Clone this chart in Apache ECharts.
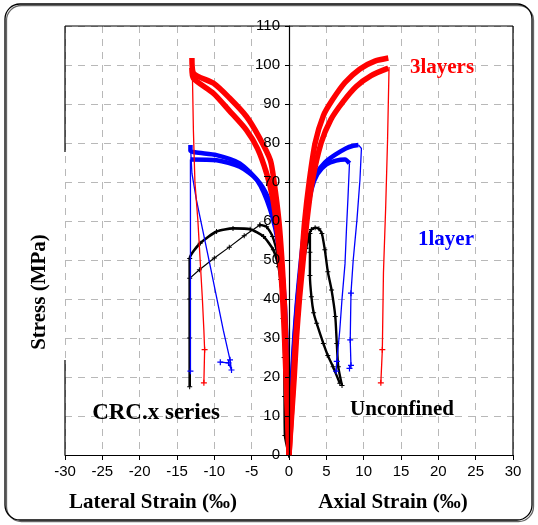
<!DOCTYPE html>
<html>
<head>
<meta charset="utf-8">
<script src="https://cdn.jsdelivr.net/npm/echarts@6/dist/echarts.min.js"></script>
<style>
  html, body { margin: 0; padding: 0; background: #fff; }
  #chart { width: 538px; height: 525px; }
</style>
</head>
<body>
<div id="chart"></div>
<script>
// stress (MPa) against strain (‰); lateral strain is drawn on the negative side
const xRange = [-30, 30];
const yRange = [0, 110];

// 3 layers (red)
const red3AxialA = [[0,0],[0.3,10],[0.6,20],[0.9,30],[1.3,40],[1.7,50],[2.1,60],[2.7,70],[3.5,80],[4.6,87],[5.8,91],[7.5,95.5],[9.5,99],[11.5,101],[13.3,101.8]];
const red3AxialB = [[0,0],[0.35,10],[0.7,20],[1.0,30],[1.4,40],[1.9,50],[2.4,60],[3.1,70],[4.3,80],[5.6,86],[7.2,90.5],[9.0,94.5],[11.0,97.3],[13.3,99.2]];
const red3AxialPost = [[13.4,99.5],[13.2,80.8],[12.95,63.6],[12.65,46.7],[12.5,27],[12.3,18.5]];
const red3LatA = [[0,0],[-0.15,10],[-0.3,20],[-0.45,30],[-0.65,40],[-0.95,50],[-1.35,60],[-2.0,70],[-2.5,75.6],[-4.0,81.5],[-5.7,86.8],[-8.0,91.6],[-10.1,95.3],[-12.8,97.9],[-13.0,101.8]];
const red3LatB = [[0,0],[-0.2,10],[-0.4,20],[-0.6,30],[-0.85,40],[-1.2,50],[-1.6,58],[-2.2,66],[-3.0,72.2],[-4.2,78.5],[-5.7,83.3],[-8.0,88.3],[-10.1,92.7],[-12.8,96.6],[-13.0,99.2]];
const red3LatPost = [[-12.95,99],[-12.8,83],[-12.6,70],[-12.2,60],[-11.9,50],[-11.6,40],[-11.4,32],[-11.3,27],[-11.4,18.5]];

// 1 layer (blue)
const blue1AxialA = [[0,0],[0.2,10],[0.4,20],[0.7,30],[1.1,40],[1.6,50],[2.2,60],[2.9,68],[3.6,72],[4.8,75],[6.2,77],[7.6,78.6],[8.6,79.3],[9.3,79.5]];
const blue1AxialAPost = [[9.3,79.5],[9.7,78.6],[9.5,70.5],[9.1,60.3],[8.6,50],[8.3,41.5],[8.2,29.5],[8.3,23],[8.1,22.2]];
const blue1AxialB = [[0,0],[0.2,10],[0.45,20],[0.75,30],[1.15,40],[1.7,50],[2.3,60],[3.0,68],[3.8,72],[5.0,74.5],[6.3,75.5],[7.5,75.8],[8.1,74.8]];
const blue1AxialBPost = [[8.1,74.8],[7.9,66],[7.7,58],[7.5,49],[7.1,40],[6.8,32],[6.5,26],[6.4,24],[6.3,21.5]];
const blue1LatA = [[0,0],[-0.1,10],[-0.2,20],[-0.35,30],[-0.6,40],[-1.0,49],[-1.6,57.7],[-2.5,64.5],[-3.9,69.7],[-6.6,74.8],[-9.7,76.9],[-13.2,78],[-13.2,79.5]];
const blue1LatAPost = [[-13.2,79.5],[-13.0,72.2],[-12.4,65.4],[-10.5,48],[-8.8,32],[-7.9,24.4],[-7.7,21.8],[-8.1,23.6],[-9.2,23.8]];
const blue1LatB = [[0,0],[-0.15,10],[-0.3,20],[-0.5,30],[-0.8,40],[-1.4,53.4],[-2.5,62.8],[-4.3,70.5],[-6.6,73.9],[-9.7,75.6],[-13.2,75.8]];
const blue1LatBPost = [[-13.2,75.8],[-13.2,60],[-13.2,40],[-13.2,21.5]];

// unconfined (black)
const blackAxialA = [[0,0],[0.25,10],[0.5,20],[0.8,30],[1.2,40],[1.7,48],[2.2,53],[2.6,56],[3.0,57.8],[3.5,58.3],[4.0,58],[4.4,56.8],[4.8,52.6],[5.2,47],[5.7,42.3],[6.2,35.5],[6.4,28.6],[6.6,22.6],[7.1,17.8]];
const blackAxialB = [[0,0],[0.3,10],[0.55,20],[0.9,30],[1.3,40],[1.8,48],[2.3,53],[2.6,55.5],[2.8,56.8],[2.8,52],[2.8,46],[3.0,40.6],[3.3,36.5],[3.7,33.8],[4.6,28.6],[5.2,25.5],[5.9,22.6],[6.8,18.4]];
const blackLatA = [[0,0],[-0.55,5],[-0.6,15],[-0.65,25],[-0.8,35],[-1.1,45],[-1.5,51],[-2.2,56],[-3.0,58.5],[-3.9,59]];
const blackLatAPost = [[-3.9,59],[-6.0,56.2],[-8.0,53.3],[-10.0,50.5],[-12.0,47.5],[-13.3,45.3]];
const blackLatB = [[0,0],[-0.25,10],[-0.4,20],[-0.6,30],[-0.9,40],[-1.4,48.3],[-2.1,52.6],[-3.4,56],[-5.2,57.9],[-7.5,58.1],[-9.7,57.3],[-11.9,54.3],[-13.3,50.4],[-13.3,40],[-13.3,30],[-13.3,17.5]];

const grid = { left: 65, top: 26, right: 25, bottom: 70 };
const W = 538, H = 525;
const gx0 = grid.left, gx1 = W - grid.right, gy0 = grid.top, gy1 = H - grid.bottom;
// the stress axis sits on zero strain, i.e. halfway across the plot
const yAxisShift = -(gx1 - gx0) * (0 - xRange[0]) / (xRange[1] - xRange[0]);

const plus = 'path://M-1,-5H1V-1H5V1H1V5H-1V1H-5V-1H-1Z';
const serif = "'Liberation Serif', 'Times New Roman', serif";
const sans = "'Liberation Sans', Arial, sans-serif";

function gridLine() {
  return { show: true, lineStyle: { color: '#b8b8b8', type: [7, 6], width: 1 } };
}
function thick(data, color, width, z) {
  return { type: 'line', data, smooth: 0.25, showSymbol: false, z,
    lineStyle: { color, width }, itemStyle: { color } };
}
function thin(data, color, markBelow, z) {
  return { type: 'line', data, smooth: false, symbol: plus, z,
    symbolSize: (v) => (v[1] < markBelow ? 6 : 0),
    lineStyle: { color, width: 1.3 }, itemStyle: { color } };
}
function beaded(data, width) {
  return { type: 'line', data, smooth: 0.2, symbol: plus, symbolSize: 5, z: 2,
    lineStyle: { color: '#000', width }, itemStyle: { color: '#000' } };
}

const chart = echarts.init(document.getElementById('chart'), null, { renderer: 'canvas' });

const option = {
  animation: false,
  backgroundColor: '#fff',
  grid: { left: grid.left, top: grid.top, right: grid.right, bottom: grid.bottom, containLabel: false },
  xAxis: {
    type: 'value', min: xRange[0], max: xRange[1], interval: 5,
    axisLine: { lineStyle: { color: '#000', width: 1.2 } },
    axisTick: { show: true, length: 5, lineStyle: { color: '#000' } },
    axisLabel: { color: '#000', fontSize: 15, fontFamily: sans, margin: 9 },
    splitLine: gridLine()
  },
  yAxis: [
    { // horizontal grid lines only, behind the curves
      type: 'value', min: yRange[0], max: yRange[1], interval: 10,
      axisLine: { show: false }, axisTick: { show: false }, axisLabel: { show: false },
      splitLine: gridLine()
    },
    { // the stress axis itself, on zero strain and above the curves
      type: 'value', min: yRange[0], max: yRange[1], interval: 10, zlevel: 1,
      position: 'left', offset: yAxisShift,
      axisLine: { show: true, onZero: false, lineStyle: { color: '#000', width: 1.2 } },
      axisTick: { show: true, length: 4, lineStyle: { color: '#000' } },
      axisLabel: { color: '#000', fontSize: 15, fontFamily: sans, margin: 9 },
      splitLine: { show: false }
    }
  ],
  series: [
    beaded(blackAxialA, 2.4),
    beaded(blackAxialB, 2.4),
    beaded(blackLatA, 2.4),
    { type: 'line', data: blackLatAPost, symbol: plus, symbolSize: 5, z: 2,
      lineStyle: { color: '#000', width: 1.2 }, itemStyle: { color: '#000' } },
    beaded(blackLatB, 2.6),

    thick(blue1AxialA, '#0000ff', 4.5, 3),
    thick(blue1AxialB, '#0000ff', 4.5, 3),
    thick(blue1LatA, '#0000ff', 4.5, 3),
    thick(blue1LatB, '#0000ff', 4.5, 3),
    thin(blue1AxialAPost, '#0000ff', 45, 3),
    thin(blue1AxialBPost, '#0000ff', 26, 3),
    thin(blue1LatAPost, '#0000ff', 26, 3),
    thin(blue1LatBPost, '#0000ff', 23, 3),

    thick(red3AxialA, '#ff0000', 5.5, 4),
    thick(red3AxialB, '#ff0000', 5.5, 4),
    thick(red3LatA, '#ff0000', 5.5, 4),
    thick(red3LatB, '#ff0000', 5.5, 4),
    thin(red3AxialPost, '#ff0000', 30, 4),
    thin(red3LatPost, '#ff0000', 30, 4)
  ],
  graphic: [
    { type: 'rect', shape: { x: 5, y: 4, width: 527, height: 516, r: 15 },
      style: { fill: 'none', stroke: '#000', lineWidth: 1.3,
        shadowColor: 'rgba(0,0,0,0.6)', shadowOffsetX: 1.5, shadowOffsetY: 1.5 }, z: 0 },
    { type: 'line', shape: { x1: gx0, y1: gy0, x2: gx1, y2: gy0 }, style: { stroke: '#000', lineWidth: 1.2 }, z: 10 },
    { type: 'line', shape: { x1: gx1, y1: gy0, x2: gx1, y2: gy1 }, style: { stroke: '#000', lineWidth: 1.2 }, z: 10 },
    { type: 'line', shape: { x1: gx0, y1: gy0, x2: gx0, y2: 152 }, style: { stroke: '#000', lineWidth: 1.2 }, z: 10 },
    { type: 'line', shape: { x1: gx0, y1: 360, x2: gx0, y2: gy1 }, style: { stroke: '#000', lineWidth: 1.2 }, z: 10 },
    { type: 'text', x: 40, y: 292, rotation: Math.PI / 2, z: 10,
      style: { text: 'Stress (MPa)', fill: '#000', font: 'bold 21px ' + serif, align: 'center', verticalAlign: 'middle' } },
    { type: 'text', x: 153, y: 503, z: 10,
      style: { text: 'Lateral Strain (‰)', fill: '#000', font: 'bold 21px ' + serif, align: 'center', verticalAlign: 'middle' } },
    { type: 'text', x: 393, y: 503, z: 10,
      style: { text: 'Axial Strain (‰)', fill: '#000', font: 'bold 21px ' + serif, align: 'center', verticalAlign: 'middle' } },
    { type: 'text', x: 156, y: 413, z: 10,
      style: { text: 'CRC.x series', fill: '#000', font: 'bold 23px ' + serif, align: 'center', verticalAlign: 'middle' } },
    { type: 'text', x: 402, y: 410, z: 10,
      style: { text: 'Unconfined', fill: '#000', font: 'bold 21px ' + serif, align: 'center', verticalAlign: 'middle' } },
    { type: 'text', x: 442, y: 68, z: 10,
      style: { text: '3layers', fill: '#ff0000', font: 'bold 21px ' + serif, align: 'center', verticalAlign: 'middle' } },
    { type: 'text', x: 446, y: 240, z: 10,
      style: { text: '1layer', fill: '#0000ff', font: 'bold 21px ' + serif, align: 'center', verticalAlign: 'middle' } }
  ]
};

chart.setOption(option);
</script>
</body>
</html>
